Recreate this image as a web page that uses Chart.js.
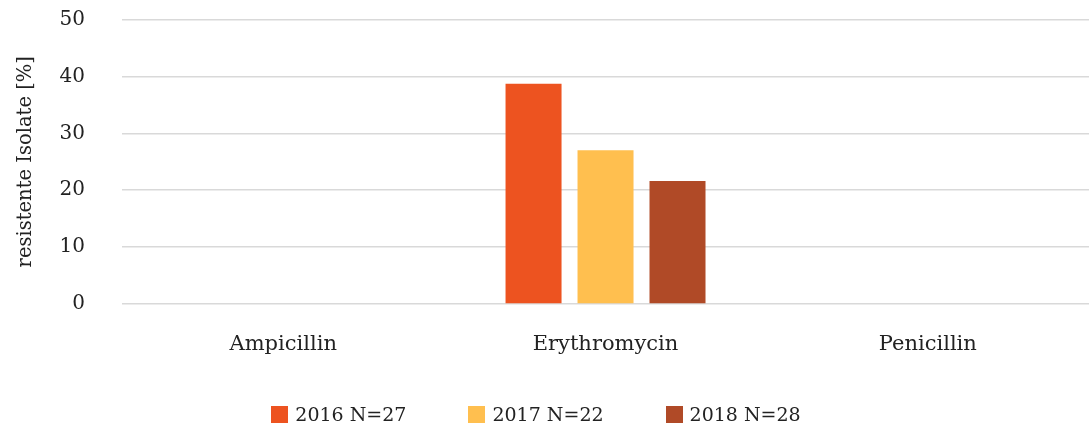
<!DOCTYPE html>
<html>
<head>
<meta charset="utf-8">
<script src="https://cdn.jsdelivr.net/npm/chart.js@4.4.1/dist/chart.umd.min.js"></script>
<style>
    html, body { margin: 0; padding: 0; background: #fff; overflow: hidden; }
    #wrap { position: relative; width: 1089px; height: 427px; }
    #legend {
        position: absolute; left: 0; top: 404px; width: 1072px; height: 20px;
        display: flex; justify-content: center; align-items: center;
        font-family: "DejaVu Serif", serif; font-size: 19px; color: #222;
    }
    .lg-item { display: flex; align-items: center; margin: 0 31px; white-space: nowrap; }
    .lg-box { width: 17px; height: 17px; margin-right: 7px; }
</style>
</head>
<body>
<div id="wrap">
    <canvas id="chart"></canvas>
    <div id="legend"></div>
</div>
<script>
// --- DATA ---
const categories = ['Ampicillin', 'Erythromycin', 'Penicillin'];
const seriesLabels = ['2016 N=27', '2017 N=22', '2018 N=28'];
const values2016 = [0, 38.7, 0];
const values2017 = [0, 27.0, 0];
const values2018 = [0, 21.6, 0];
const yTicks = [0, 10, 20, 30, 40, 50];
const seriesColors = ['#ED5320', '#FFBF4F', '#B04A27'];

const FONT = '"DejaVu Serif", serif';
const TEXT = '#222';

const seriesValues = [values2016, values2017, values2018];

const chart = new Chart(document.getElementById('chart'), {
    type: 'bar',
    data: {
        labels: categories,
        datasets: seriesLabels.map((label, i) => ({
            label: label,
            data: seriesValues[i],
            backgroundColor: seriesColors[i],
            borderWidth: 0,
            categoryPercentage: 0.67,
            barPercentage: 0.778
        }))
    },
    options: {
        responsive: true,
        maintainAspectRatio: false,
        animation: false,
        layout: { padding: { left: 14, top: 19.5, right: 0, bottom: 65.8 } },
        plugins: {
            legend: { display: false },
            tooltip: { enabled: false }
        },
        scales: {
            x: {
                // invisible tick marks give the gap under the axis
                grid: { display: false, drawTicks: true, tickLength: 24 },
                border: { display: false },
                ticks: { color: TEXT, font: { family: FONT, size: 21 }, padding: 4 }
            },
            y: {
                min: yTicks[0],
                max: yTicks[yTicks.length - 1],
                afterBuildTicks: axis => { axis.ticks = yTicks.map(v => ({ value: v })); },
                grid: { color: '#d9d9d9', lineWidth: 1.5, drawTicks: true, tickLength: 30, tickColor: 'rgba(0,0,0,0)' },
                border: { display: false },
                ticks: { color: TEXT, font: { family: FONT, size: 20 }, padding: 7 },
                title: {
                    display: true,
                    text: 'resistente Isolate [%]',
                    color: TEXT,
                    font: { family: FONT, size: 19.5 },
                    padding: { top: 0, bottom: 15.2 }
                }
            }
        }
    }
});

// HTML legend built from the chart's own legend items
const legendEl = document.getElementById('legend');
chart.options.plugins.legend.labels.generateLabels(chart).forEach(item => {
    const el = document.createElement('span');
    el.className = 'lg-item';
    el.innerHTML = `<span class="lg-box" style="background:${item.fillStyle}"></span>${item.text}`;
    legendEl.appendChild(el);
});
</script>
</body>
</html>
